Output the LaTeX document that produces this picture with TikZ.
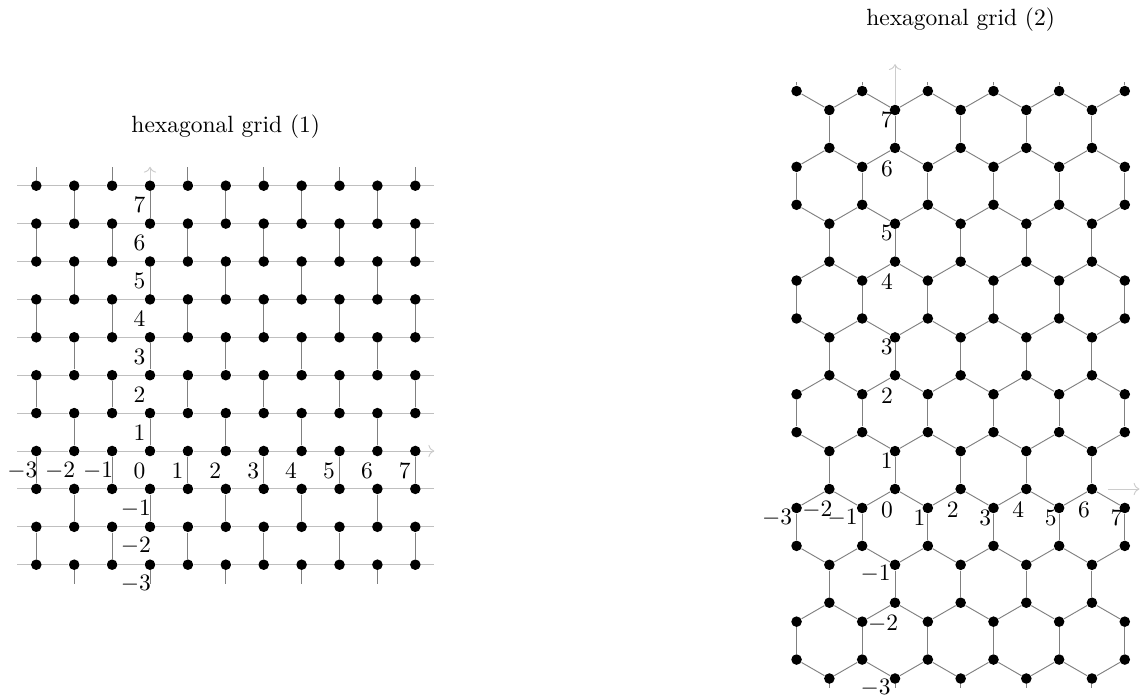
\documentclass[tikz,border=0pt]{standalone}
\usepackage{tikz}
\usetikzlibrary{arrows.meta,positioning}

\begin{document}
\begin{tikzpicture}[
  x=0.567cm, y=0.567cm,
  dot/.style={circle, fill=black, inner sep=0pt, minimum size=4.5pt},
  edge/.style={gray, line width=0.4pt},
  row/.style={gray!50, line width=0.4pt},
  ax/.style={->, gray!40},
  lab/.style={inner sep=0pt}
]
\useasboundingbox (-3.958,-6.464) rectangle (26.121,11.900);

% grid (1), node a<i>-<j> sits at (i-3,j-3)
\foreach \i in {0,...,10}
  \foreach \j in {0,...,10}
    \node[dot] (a\i-\j) at (\i-3,\j-3) {};
\foreach \j in {0,...,10}{
  \coordinate (aw\j) at (-3.5,\j-3);
  \coordinate (ae\j) at (7.5,\j-3);
  \draw[row] (aw\j) -- (a0-\j);
  \draw[row] (a10-\j) -- (ae\j);
  \foreach \i in {0,...,9}{
    \pgfmathtruncatemacro\ii{\i+1}
    \draw[row] (a\i-\j) -- (a\ii-\j);
  }
}
\foreach \i in {0,...,10}{
  \foreach \j in {1,...,10}{
    \pgfmathtruncatemacro\jm{\j-1}
    \pgfmathtruncatemacro\sm{\i+\j}
    \ifodd\sm \draw[edge] (a\i-\j) -- (a\i-\jm); \fi
  }
  \ifodd\i
    \coordinate (as\i) at (\i-3,-3.5);
    \draw[edge] (a\i-0) -- (as\i);
  \else
    \coordinate (an\i) at (\i-3,7.5);
    \draw[edge] (a\i-10) -- (an\i);
  \fi
}
\coordinate (ay) at (0,7.5);
\draw[ax] (a10-3) -- (ae3);
\draw[ax] (a3-10) -- (ay);

% grid (2)
\begin{scope}[shift={(19.657,-1.253)}]
\foreach \i in {0,...,10}
  \foreach \j in {0,...,10}{
    \pgfmathtruncatemacro\sm{\i+\j}
    \ifodd\sm \def\dy{-0.25}\else\def\dy{0.25}\fi
    \node[dot] (b\i-\j) at ({0.866*(\i-3)},{1.5*(\j-3)+\dy}) {};
  }
\foreach \j in {0,...,10}{
  \foreach \i in {0,...,9}{
    \pgfmathtruncatemacro\ii{\i+1}
    \draw[edge] (b\i-\j) -- (b\ii-\j);
  }
}
\foreach \i in {0,...,10}{
  \foreach \j in {1,...,10}{
    \pgfmathtruncatemacro\jm{\j-1}
    \pgfmathtruncatemacro\sm{\i+\j}
    \ifodd\sm \draw[edge] (b\i-\j) -- (b\i-\jm); \fi
  }
  \ifodd\i
    \coordinate (bs\i) at ({0.866*(\i-3)},-5);
    \draw[edge] (b\i-0) -- (bs\i);
  \else
    \coordinate (bn\i) at ({0.866*(\i-3)},11);
    \draw[edge] (b\i-10) -- (bn\i);
  \fi
}
\coordinate (bxa) at (5.62,0.25);
\coordinate (bxb) at (6.45,0.25);
\coordinate (by) at (0,11.46);
\draw[ax] (bxa) -- (bxb);
\draw[ax] (b3-10) -- (by);
\end{scope}

% tick labels
\foreach \i in {0,...,10}{
  \pgfmathtruncatemacro\x{\i-3}
  \pgfmathsetmacro\dx{\x<0 ? -0.37 : -0.277}
  \node[lab] (la\i) at ([shift={(\dx,-0.515)}]a\i-3.center) {$\x$};
}
\foreach \j in {0,1,2,4,5,...,10}{
  \pgfmathtruncatemacro\y{\j-3}
  \pgfmathsetmacro\dx{\y<0 ? -0.37 : -0.277}
  \node[lab] (lay\j) at ([shift={(\dx,-0.515)}]a3-\j.center) {$\y$};
}
\foreach \i in {0,...,10}{
  \pgfmathtruncatemacro\x{\i-3}
  \ifodd\x
    \pgfmathsetmacro\dx{\x<0 ? -0.515 : -0.219}\def\dy{-0.25}
  \else
    \pgfmathsetmacro\dx{\x<0 ? -0.317 : -0.211}\def\dy{-0.546}
  \fi
  \node[lab] (lb\i) at ([shift={(\dx,\dy)}]b\i-3.center) {$\x$};
}
\foreach \j in {0,1,2,4,5,...,10}{
  \pgfmathtruncatemacro\y{\j-3}
  \ifodd\y
    \pgfmathsetmacro\dx{\y<0 ? -0.515 : -0.219}\def\dy{-0.25}
  \else
    \pgfmathsetmacro\dx{\y<0 ? -0.317 : -0.211}\def\dy{-0.546}
  \fi
  \node[lab] (lby\j) at ([shift={(\dx,\dy)}]b3-\j.center) {$\y$};
}

% titles
\node (t1) at (2.0,8.55) {hexagonal grid (1)};
\node (t2) at (21.389,11.37) {hexagonal grid (2)};
\end{tikzpicture}
\end{document}
